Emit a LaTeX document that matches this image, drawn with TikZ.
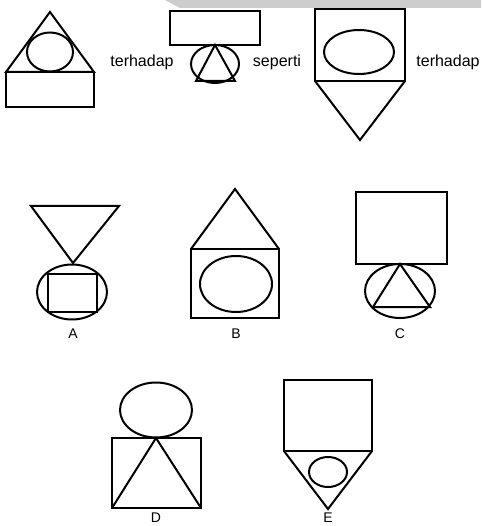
\documentclass[tikz,border=0pt]{standalone}
\usepackage{fontspec}
\setmainfont{Liberation Sans}
\usepackage{xcolor}
\usetikzlibrary{positioning}
\definecolor{bandgray}{RGB}{205,205,205}

\begin{document}
\begin{tikzpicture}[x=1pt, y=-1pt,
      fig/.style={line width=2pt, line join=miter},
      word/.style={font=\fontsize{16}{18}\selectfont, inner sep=0pt},
      tag/.style={font=\fontsize{14}{16}\selectfont, inner sep=0pt}
    ]
    \useasboundingbox (0,0) rectangle (481,526);
    \fill[white] (0,0) rectangle (481,526);
    \fill[bandgray] (165,0) -- (481,0) -- (481,8) -- (180,8) -- cycle;

    % question row
    \draw[fig] (6,72) -- (50,12) -- (94,72) -- cycle;
    \draw[fig] (6,72) rectangle (94,107);
    \draw[fig] (50,52) ellipse [x radius=23, y radius=19.5];
    \node[word] (w1) at (142,62) {terhadap};

    \draw[fig] (170,11) rectangle (260,45);
    \draw[fig] (215,64) ellipse [x radius=24, y radius=19];
    \draw[fig] (215,45) -- (235,81) -- (196,81) -- cycle;
    \node[word] (w2) at (277,62) {seperti};

    \draw[fig] (315,9) rectangle (405,81);
    \draw[fig] (359,52) ellipse [x radius=35, y radius=22];
    \draw[fig] (315,81) -- (360,140) -- (405,81);
    \node[word] (w3) at (448,62) {terhadap};

    % answers A B C
    \draw[fig] (31,206) -- (119,206) -- (73,263) -- cycle;
    \draw[fig] (72,292) ellipse [x radius=35, y radius=27.5];
    \draw[fig] (48,274) rectangle (97,312);
    \node[tag] (la) at (73,334) {A};

    \draw[fig] (191,249) -- (235,189) -- (279,249);
    \draw[fig] (191,249) rectangle (279,318);
    \draw[fig] (236,284) ellipse [x radius=36, y radius=28];
    \node[tag] (lb) at (236,334) {B};

    \draw[fig] (356,192) rectangle (447,264);
    \draw[fig] (400,291) ellipse [x radius=35, y radius=27];
    \draw[fig] (400,264) -- (430,307) -- (373,307) -- cycle;
    \node[tag] (lc) at (400,334) {C};

    % answers D E
    \draw[fig] (156,410) ellipse [x radius=36, y radius=27.5];
    \draw[fig] (112,438) rectangle (201,508);
    \draw[fig] (112,508) -- (156,438) -- (201,508);
    \node[tag] (ld) at (156,518) {D};

    \draw[fig] (284,380) rectangle (372,451);
    \draw[fig] (284,451) -- (328,509) -- (372,451);
    \draw[fig] (328,472) ellipse [x radius=19, y radius=15];
    \node[tag] (le) at (328,518) {E};
\end{tikzpicture}
\end{document}
